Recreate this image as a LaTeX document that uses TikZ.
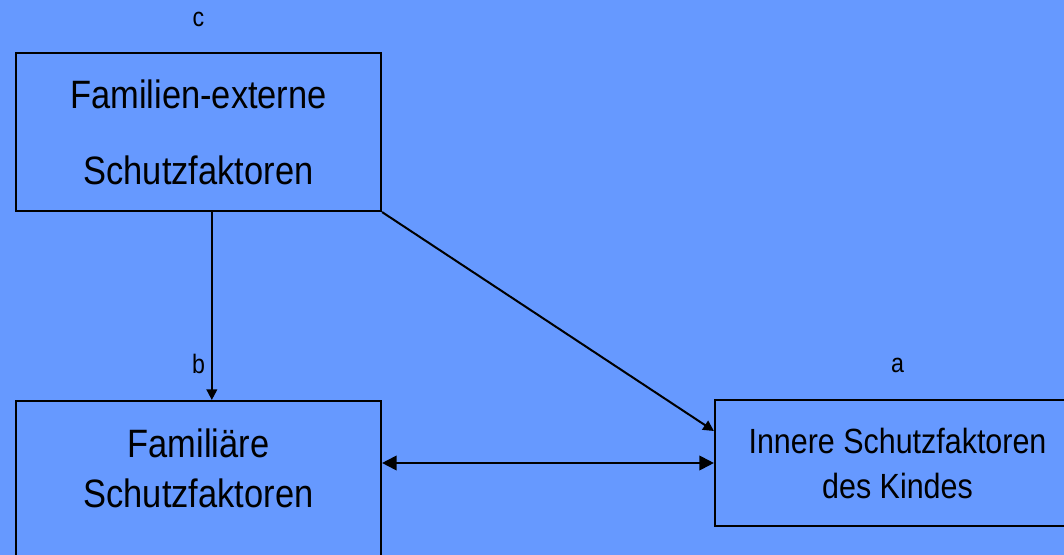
\documentclass[tikz,border=0pt]{standalone}
\usepackage{fontspec}
\setmainfont{Liberation Sans}[FakeStretch=0.87]
\usepackage{xcolor}
\usetikzlibrary{arrows.meta, positioning}
\definecolor{slideblue}{RGB}{102,153,255}

\begin{document}
\begin{tikzpicture}[
    x=0.75pt, y=-0.75pt,
    node distance=19pt,
    box/.style={rectangle, draw, line width=1.6pt, minimum width=273.75pt,
                inner sep=0pt, align=center},
    lbl/.style={font=\fontsize{20pt}{24pt}\selectfont, inner sep=0pt},
    arrow/.style={-{Triangle[length=8pt, width=8pt]}, line width=1.5pt},
    dblarrow/.style={{Triangle[length=11pt, width=11pt]}-{Triangle[length=11pt, width=11pt]},
                     line width=1.5pt}
]
    \useasboundingbox (0,0) rectangle (1064,555);
    \clip (0,0) rectangle (1064,555);
    \fill[slideblue] (0,0) rectangle (1064,555);

    \node[box, minimum height=118.5pt, font=\fontsize{29.7pt}{57pt}\selectfont] (ext) at (198.5,132) {Familien-externe\\Schutzfaktoren};
    \node[box, minimum height=187.5pt, anchor=north] (fam) at (198.5,400) {};
    \node[inner sep=0pt, align=center, anchor=north, font=\fontsize{29.7pt}{37.5pt}\selectfont] (famtxt) at (198.5,429) {Familiäre\\Schutzfaktoren};
    \node[box, minimum height=94.5pt, font=\fontsize{26.25pt}{33.75pt}\selectfont] (inner) at (897.5,463) {Innere Schutzfaktoren\\des Kindes};

    \node[lbl, above=of ext] (lblc) {c};
    \node[lbl, above=19.5pt of fam] (lblb) {b};
    \node[lbl, above=19.5pt of inner] (lbla) {a};

    \draw[arrow] ([xshift=10pt]ext.south) -- ([xshift=10pt]ext.south |- fam.north);
    \draw[arrow] (ext.south east) -- ([yshift=24pt]inner.west);
    \draw[dblarrow] (fam.east |- inner.west) -- (inner.west);
\end{tikzpicture}
\end{document}
